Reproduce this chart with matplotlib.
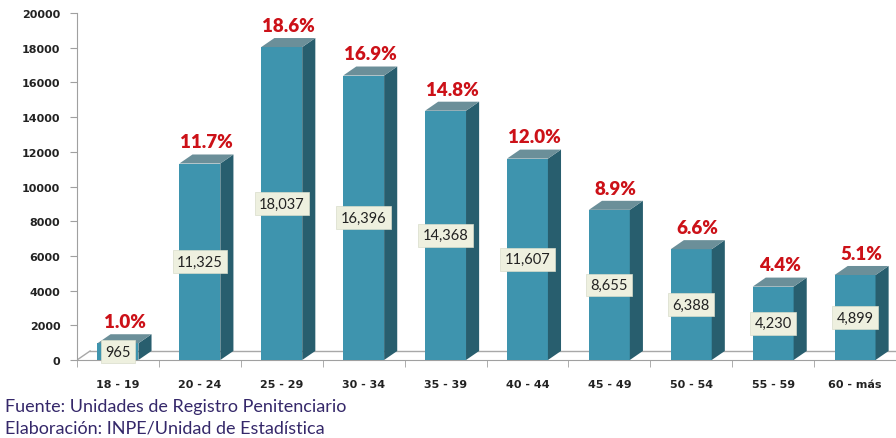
import matplotlib.pyplot as plt
from matplotlib.patches import Polygon, Rectangle

# Datos
grupos = ['18 - 19', '20 - 24', '25 - 29', '30 - 34', '35 - 39',
          '40 - 44', '45 - 49', '50 - 54', '55 - 59', '60 - más']
internos = [965, 11325, 18037, 16396, 14368, 11607, 8655, 6388, 4230, 4899]
porcentajes = ['1.0%', '11.7%', '18.6%', '16.9%', '14.8%',
               '12.0%', '8.9%', '6.6%', '4.4%', '5.1%']

c_frente = '#3e94ae'
c_lado = '#285e6e'
c_techo = '#6b8f99'

ancho = 0.5      # ancho de la cara frontal
dx = 0.16        # profundidad (categorias)
dy = 520         # profundidad (unidades de y)

fig = plt.figure(figsize=(8.96, 4.39), dpi=100)
ax = fig.add_axes([77/896, 78/439, 819/896, 347/439])
ax.set_xlim(-0.5, 9.5)
ax.set_ylim(0, 20000)

# piso
ax.plot([-0.5, -0.5 + dx], [0, dy], color='#a8a8a8', lw=1, zorder=1)
ax.plot([-0.5 + dx, 9.5], [dy, dy], color='#a8a8a8', lw=1, zorder=1)

for i, v in enumerate(internos):
    x0 = i - ancho / 2
    x1 = i + ancho / 2
    ax.add_patch(Rectangle((x0, 0), ancho, v, facecolor=c_frente,
                           edgecolor='none', zorder=3))
    ax.add_patch(Polygon([(x1, 0), (x1 + dx, dy), (x1 + dx, v + dy), (x1, v)],
                         closed=True, facecolor=c_lado, edgecolor='none', zorder=3))
    ax.add_patch(Polygon([(x0, v), (x1, v), (x1 + dx, v + dy), (x0 + dx, v + dy)],
                         closed=True, facecolor=c_techo, edgecolor='none', zorder=3))
    ax.text(i, v / 2, f'{v:,}', ha='center', va='center', fontsize=10.5,
            family='Lato', color='#222222', zorder=5,
            bbox=dict(boxstyle='square,pad=0.3', facecolor='#eef0df',
                      edgecolor='#d8dccb', lw=0.5))
    ax.text(i + dx / 2, v + 1250, porcentajes[i], ha='center', va='center',
            fontsize=13.5, fontweight='heavy', family='Lato', color='#cc1118',
            zorder=5)

ax.set_yticks(range(0, 20001, 2000))
ax.set_yticklabels([str(t) for t in range(0, 20001, 2000)],
                   fontsize=8, fontweight='bold', color='#222222')
ax.set_xticks(range(len(grupos)))
ax.set_xticklabels(grupos, fontsize=8, fontweight='bold', color='#222222')
ax.set_xticks([k - 0.5 for k in range(len(grupos) + 1)], minor=True)
ax.tick_params(axis='x', which='major', length=0, pad=14)
ax.tick_params(axis='x', which='minor', length=5, color='#a0a0a0', direction='out')
ax.tick_params(axis='y', length=5, color='#a0a0a0', pad=7)

for lado in ['top', 'right']:
    ax.spines[lado].set_visible(False)
ax.spines['left'].set_color('#a0a0a0')
ax.spines['bottom'].set_color('#a0a0a0')

fig.text(5/896, 1 - 407/439, 'Fuente: Unidades de Registro Penitenciario',
         fontsize=13, family='Lato', color='#35286a', va='center')
fig.text(5/896, 1 - 429/439, 'Elaboración: INPE/Unidad de Estadística',
         fontsize=13, family='Lato', color='#35286a', va='center')

fig.savefig('out.png', dpi=100)
